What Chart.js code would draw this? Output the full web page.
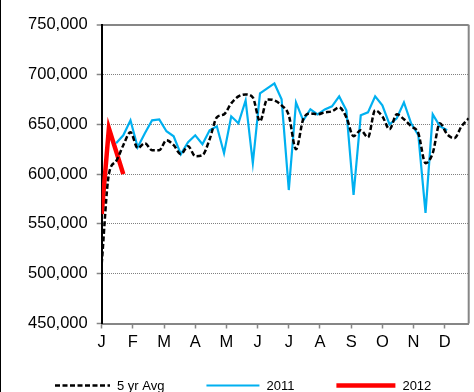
<!DOCTYPE html>
<html>
<head>
<meta charset="utf-8">
<script src="https://cdn.jsdelivr.net/npm/chart.js@4"></script>
<style>
    html, body { margin: 0; padding: 0; background: #fff; }
</style>
</head>
<body>
<canvas id="myChart" width="474" height="392"></canvas>
<script>
// Month tick labels (weekly data, 52 weeks)
const months = ['J', 'F', 'M', 'A', 'M', 'J', 'J', 'A', 'S', 'O', 'N', 'D'];
const weeks = [...Array(52).keys()];

// 5 yr Avg, weeks 0..51
const avg5yr = [
    510000, 600000, 613000, 629000, 642000, 626000, 631000, 624000, 624000, 634000,
    629000, 620000, 628000, 618000, 619000, 635000, 657000, 660000, 671000, 678000,
    680000, 677000, 653000, 675000, 674000, 669000, 659000, 625000, 655000, 661000,
    660000, 662000, 663000, 667000, 657000, 638000, 644000, 637000, 664000, 658000,
    645000, 660000, 655000, 648000, 641000, 611000, 621000, 651000, 640000, 636000,
    648000, 656000
];

// 2011, weeks 0..51 (null = no value)
const y2011 = [
    null, null, 631000, 639000, 654000, 627000, 641000, 654000, 655000, 643000,
    638000, 620000, 632000, 639000, 630000, 644000, 648000, 621000, 658000, 651000,
    674000, 611000, 681000, 686000, 691000, 675000, 584000, 672000, 654000, 665000,
    660000, 665000, 668000, 678000, 664000, 579000, 659000, 662000, 678000, 669000,
    650000, 656000, 672000, 651000, 639000, 561000, 660000, 648000, 644000, null,
    null, null
];

// 2012, first weeks only
const y2012 = [560000, 646000, 623000, 600000];

const toPoints = arr => arr.map((v, i) => ({ x: weeks[i], y: v })).filter(p => p.y !== null);

const fontFamily = '"Liberation Sans", Arial, sans-serif';

// gray frame on the right, black edge on the left of the picture
const frame = {
    id: 'frame',
    beforeDatasetsDraw(chart) {
        const { ctx, chartArea: a } = chart;
        ctx.save();
        ctx.strokeStyle = '#868686';
        ctx.lineWidth = 2;
        ctx.beginPath();
        ctx.moveTo(a.right, a.top);
        ctx.lineTo(a.right, a.bottom);
        ctx.stroke();
        ctx.restore();
    },
    afterDraw(chart) {
        const ctx = chart.ctx;
        ctx.save();
        ctx.fillStyle = '#000';
        ctx.fillRect(0, 0, 1, chart.height);
        ctx.restore();
    }
};

// legend drawn as line samples from the datasets
const lineLegend = {
    id: 'lineLegend',
    afterDraw(chart) {
        const ctx = chart.ctx;
        const lens = [55, 53, 59];
        let x = 55;
        const y = 385.5;
        ctx.save();
        ctx.font = '13px ' + fontFamily;
        ctx.textBaseline = 'middle';
        chart.data.datasets.forEach((ds, i) => {
            ctx.strokeStyle = ds.borderColor;
            ctx.lineWidth = ds.borderWidth;
            ctx.setLineDash(ds.borderDash || []);
            ctx.beginPath();
            ctx.moveTo(x, y);
            ctx.lineTo(x + lens[i], y);
            ctx.stroke();
            ctx.setLineDash([]);
            ctx.fillStyle = '#000';
            ctx.fillText(ds.label, x + lens[i] + 7, y + 1);
            x += lens[i] + 7 + ctx.measureText(ds.label).width + 42;
        });
        ctx.restore();
    }
};

const myChart = new Chart(document.getElementById('myChart'), {
    type: 'line',
    data: {
        datasets: [{
            label: '5 yr Avg',
            data: toPoints(avg5yr),
            borderColor: '#000000',
            backgroundColor: '#000000',
            borderWidth: 2.5,
            borderDash: [5, 2.5],
            cubicInterpolationMode: 'monotone',
            pointRadius: 0
        }, {
            label: '2011',
            data: toPoints(y2011),
            borderColor: '#00b0f0',
            backgroundColor: '#00b0f0',
            borderWidth: 2.2,
            tension: 0,
            pointRadius: 0
        }, {
            label: '2012',
            data: toPoints(y2012),
            borderColor: '#ff0000',
            backgroundColor: '#ff0000',
            borderWidth: 4.5,
            tension: 0,
            pointRadius: 0
        }]
    },
    options: {
        responsive: false,
        animation: false,
        layout: { padding: { left: 0, top: 24.7, right: 5.3, bottom: 28.5 } },
        plugins: {
            tooltip: { enabled: false },
            legend: { display: false }
        },
        scales: {
            x: {
                type: 'linear',
                min: 0,
                max: 51,
                afterBuildTicks: scale => {
                    scale.ticks = months.map((m, i) => ({ value: i * 52 / 12 }));
                },
                afterFit: scale => { scale.height = 40; },
                ticks: {
                    callback: (v, i) => months[i],
                    autoSkip: false,
                    maxRotation: 0,
                    padding: 4,
                    color: '#000',
                    font: { family: fontFamily, size: 16.5 }
                },
                grid: { drawOnChartArea: false, tickLength: 5, tickColor: '#868686', tickWidth: 1.5 },
                border: { color: '#868686', width: 2 }
            },
            y: {
                min: 450000,
                max: 750000,
                afterFit: scale => { scale.width = 101.7; },
                ticks: {
                    stepSize: 50000,
                    padding: 9,
                    color: '#000',
                    font: { family: fontFamily, size: 16.5 },
                    callback: v => v.toLocaleString('en-US')
                },
                grid: {
                    color: c => !c.tick ? '#868686' : (c.tick.value === 750000 ? '#868686' : (c.tick.value === 450000 ? 'rgba(0,0,0,0)' : '#808080')),
                    lineWidth: c => c.tick && c.tick.value === 750000 ? 2 : 1,
                    tickLength: 5,
                    tickColor: '#868686',
                    tickWidth: 1.5
                },
                border: {
                    color: '#000',
                    width: 2,
                    dash: c => (c.tick && c.tick.value !== 750000) ? [1, 1] : []
                }
            }
        }
    },
    plugins: [frame, lineLegend]
});
</script>
</body>
</html>
